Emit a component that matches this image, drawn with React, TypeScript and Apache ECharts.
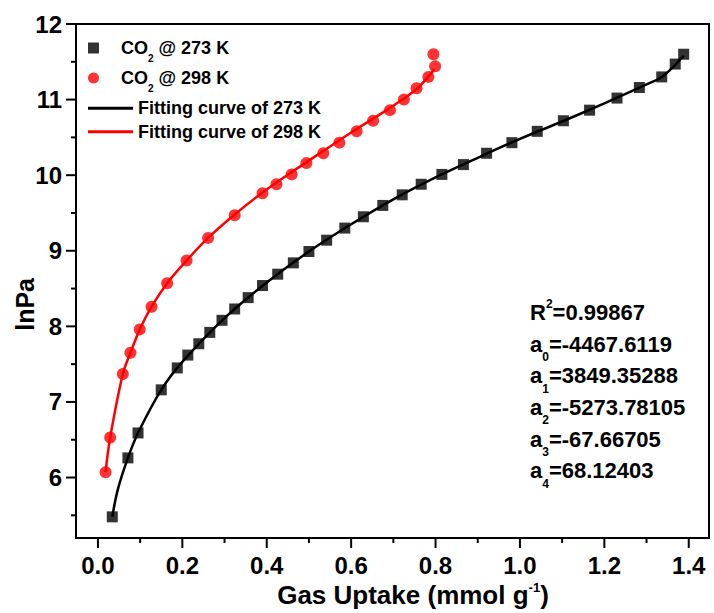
import React, { useEffect, useRef } from 'react';
import * as echarts from 'echarts';

const FONT = 'Arial, "Liberation Sans", Helvetica, sans-serif';

// CO2 @ 273 K (x: mmol/g, y: lnPa)
const x273 = [0.034, 0.071, 0.095, 0.150, 0.188, 0.213, 0.239, 0.265, 0.294, 0.324, 0.356, 0.390, 0.426, 0.463, 0.500, 0.542, 0.585, 0.629, 0.675, 0.721, 0.766, 0.815, 0.866, 0.921, 0.981, 1.041, 1.103, 1.165, 1.230, 1.283, 1.336, 1.368, 1.388];
const y273 = [5.48, 6.26, 6.59, 7.16, 7.45, 7.62, 7.77, 7.92, 8.08, 8.23, 8.38, 8.54, 8.69, 8.84, 8.99, 9.14, 9.30, 9.45, 9.60, 9.74, 9.88, 10.01, 10.14, 10.29, 10.43, 10.58, 10.72, 10.86, 11.02, 11.16, 11.30, 11.47, 11.60];

// CO2 @ 298 K
const x298 = [0.018, 0.029, 0.059, 0.077, 0.099, 0.127, 0.164, 0.210, 0.261, 0.324, 0.390, 0.423, 0.459, 0.494, 0.534, 0.572, 0.613, 0.652, 0.692, 0.725, 0.755, 0.783, 0.799, 0.795];
const y298 = [6.07, 6.53, 7.37, 7.65, 7.96, 8.26, 8.57, 8.87, 9.17, 9.47, 9.76, 9.88, 10.01, 10.16, 10.29, 10.43, 10.58, 10.72, 10.86, 11.00, 11.15, 11.30, 11.44, 11.60];

// Fitting curves
const fitX273 = [0.034, 0.047, 0.071, 0.095, 0.150, 0.200, 0.300, 0.400, 0.500, 0.600, 0.700, 0.800, 0.900, 1.000, 1.100, 1.200, 1.300, 1.336, 1.368, 1.388];
const fitY273 = [5.48, 5.84, 6.26, 6.59, 7.16, 7.53, 8.11, 8.58, 8.99, 9.35, 9.68, 9.97, 10.23, 10.48, 10.71, 10.95, 11.20, 11.30, 11.46, 11.58];
const fitX298 = [0.018, 0.029, 0.059, 0.077, 0.100, 0.127, 0.164, 0.210, 0.261, 0.324, 0.390, 0.459, 0.534, 0.613, 0.692, 0.755, 0.797];
const fitY298 = [6.07, 6.53, 7.37, 7.65, 7.97, 8.26, 8.57, 8.87, 9.17, 9.48, 9.77, 10.04, 10.32, 10.61, 10.89, 11.14, 11.40];

const xMajorTicks = [0, 0.2, 0.4, 0.6, 0.8, 1.0, 1.2, 1.4];
const xMinorTicks = [0.1, 0.3, 0.5, 0.7, 0.9, 1.1, 1.3];
const yMajorTicks = [6, 7, 8, 9, 10, 11, 12];
const yMinorTicks = [5.5, 6.5, 7.5, 8.5, 9.5, 10.5, 11.5];

const names = ['CO2 @ 273 K', 'CO2 @ 298 K', 'Fitting curve of 273 K', 'Fitting curve of 298 K'];

// fit parameters: [letter, index, kind, value]
const fitParams: [string, string, 'sup' | 'sub', string][] = [
  ['R', '2', 'sup', '=0.99867'],
  ['a', '0', 'sub', '=-4467.6119'],
  ['a', '1', 'sub', '=3849.35288'],
  ['a', '2', 'sub', '=-5273.78105'],
  ['a', '3', 'sub', '=-67.66705'],
  ['a', '4', 'sub', '=68.12403'],
];

const zip = (xs: number[], ys: number[]) => xs.map((x, i) => [x, ys[i]]);

const X_MIN = -0.052, X_MAX = 1.448, Y_MIN = 5.2, Y_MAX = 12;
const MAJOR_LEN = 10, MINOR_LEN = 5;

export default function App() {
  const ref = useRef<HTMLDivElement>(null);
  useEffect(() => {
    document.body.style.margin = '0';
    if (!ref.current) return;
    const chart = echarts.init(ref.current, null, { renderer: 'svg' });

    const paramTexts = fitParams.map(([l, i, kind, v], k) => {
      const center = 312.3 + k * 31.7;
      return {
        type: 'text',
        z: 100,
        style: {
          x: 530,
          y: center,
          verticalAlign: 'middle',
          align: 'left',
          text: `{m|${l}}{${kind}|${i}}{m|${v}}`,
          rich: {
            m: { fontSize: 22, fontWeight: 'bold', fontFamily: FONT, fill: '#000', lineHeight: kind === 'sup' ? 29.6 : 38, verticalAlign: 'middle' },
            sup: { fontSize: 12, fontWeight: 'bold', fontFamily: FONT, fill: '#000', lineHeight: 12, verticalAlign: 'top' },
            sub: { fontSize: 12, fontWeight: 'bold', fontFamily: FONT, fill: '#000', lineHeight: 12, verticalAlign: 'bottom' },
          },
        },
      };
    });

    const legendRichA = { fontSize: 18, fontWeight: 'bold', fontFamily: FONT, color: '#000' };

    // One custom series per tick set: each item is just the tick value
    const tickSeries = (values: number[], axis: 'x' | 'y', len: number, id: string) => ({
      id, name: id, type: 'custom', clip: false, silent: true, z: 50,
      data: values.map(v => (axis === 'x' ? [v, Y_MIN] : [X_MIN, v])),
      renderItem: (params: any, api: any) => {
        const p = api.coord([api.value(0), api.value(1)]);
        if (axis === 'x') {
          return { type: 'rect', z2: 100, shape: { x: p[0] - 1, y: p[1], width: 2, height: len }, style: { fill: '#000' } };
        }
        return { type: 'rect', z2: 100, shape: { x: p[0] - len, y: p[1] - 1, width: len, height: 2 }, style: { fill: '#000' } };
      },
    });

    const option: any = {
      animation: false,
      backgroundColor: '#fff',
      grid: {
        left: 76, right: 5, top: 24, bottom: 75,
        show: true, borderColor: '#000', borderWidth: 2,
        containLabel: false, outerBoundsMode: 'none',
      },
      xAxis: {
        type: 'value', min: X_MIN, max: X_MAX, position: 'bottom',
        axisLine: { show: true, onZero: false, lineStyle: { color: '#000', width: 2 } },
        axisTick: { show: false },
        axisLabel: {
          customValues: xMajorTicks, formatter: (v: number) => v.toFixed(1),
          fontSize: 24, fontWeight: 'bold', fontFamily: FONT, color: '#000', margin: 15,
        },
        splitLine: { show: false },
      },
      yAxis: {
        type: 'value', min: Y_MIN, max: Y_MAX, position: 'left',
        axisLine: { show: true, onZero: false, lineStyle: { color: '#000', width: 2 } },
        axisTick: { show: false },
        axisLabel: {
          customValues: yMajorTicks, formatter: (v: number) => String(Math.round(v)),
          fontSize: 24, fontWeight: 'bold', fontFamily: FONT, color: '#000', margin: 14,
        },
        splitLine: { show: false },
      },
      legend: [
        {
          data: [
            { name: names[0], icon: 'path://M0,0H10V10H0Z' },
            { name: names[1], icon: 'circle' },
          ],
          orient: 'vertical', left: 88, top: 39, padding: 0, itemGap: 6,
          itemWidth: 45, itemHeight: 11, selectedMode: false, symbolKeepAspect: true,
          formatter: (n: string) => '{a|CO}{s|2}{a|' + n.slice(3) + '}',
          textStyle: {
            ...legendRichA,
            rich: {
              a: { ...legendRichA, lineHeight: 30, verticalAlign: 'middle' },
              s: { fontSize: 10, fontWeight: 'bold', fontFamily: FONT, color: '#000', lineHeight: 10, verticalAlign: 'bottom' },
            },
          },
        },
        {
          data: [
            { name: names[2], icon: 'rect' },
            { name: names[3], icon: 'rect' },
          ],
          orient: 'vertical', left: 88, top: 98.3, padding: 0, itemGap: 3.4,
          itemWidth: 45, itemHeight: 3, selectedMode: false, symbolKeepAspect: false,
          textStyle: { ...legendRichA, lineHeight: 20 },
        },
      ],
      graphic: [
        {
          type: 'text', z: 100,
          style: {
            x: 413, y: 594.5, align: 'center', verticalAlign: 'middle',
            text: '{m|Gas Uptake (mmol g}{p|-1}{m|)}',
            rich: {
              m: { fontSize: 26, fontWeight: 'bold', fontFamily: FONT, fill: '#000', lineHeight: 27.6, verticalAlign: 'middle' },
              p: { fontSize: 13, fontWeight: 'bold', fontFamily: FONT, fill: '#000', lineHeight: 13, verticalAlign: 'top' },
            },
          },
        },
        {
          type: 'text', z: 100, x: 24.6, y: 304.4, rotation: Math.PI / 2,
          style: {
            x: 0, y: 0, align: 'center', verticalAlign: 'middle',
            text: 'lnPa', fontSize: 25, fontWeight: 'bold', fontFamily: FONT, fill: '#000',
          },
        },
        ...paramTexts,
      ],
      series: [
        tickSeries(xMajorTicks, 'x', MAJOR_LEN, 'xMajor'),
        tickSeries(xMinorTicks, 'x', MINOR_LEN, 'xMinor'),
        tickSeries(yMajorTicks, 'y', MAJOR_LEN, 'yMajor'),
        tickSeries(yMinorTicks, 'y', MINOR_LEN, 'yMinor'),
        {
          name: names[2], type: 'line', data: zip(fitX273, fitY273),
          showSymbol: false, symbol: 'none', smooth: 0.35,
          lineStyle: { color: '#000', width: 2.5 }, itemStyle: { color: '#000' }, z: 3,
        },
        {
          name: names[3], type: 'line', data: zip(fitX298, fitY298),
          showSymbol: false, symbol: 'none', smooth: 0.35,
          lineStyle: { color: '#ff0000', width: 2.5 }, itemStyle: { color: '#ff0000' }, z: 3,
        },
        {
          name: names[0], type: 'scatter', data: zip(x273, y273),
          symbol: 'rect', symbolSize: 11, itemStyle: { color: '#000' }, z: 4,
        },
        {
          name: names[1], type: 'scatter', data: zip(x298, y298),
          symbol: 'circle', symbolSize: 12, itemStyle: { color: '#ff0000' }, z: 4,
        },
      ],
    };
    chart.setOption(option);
    return () => chart.dispose();
  }, []);
  return <div ref={ref} style={{ width: 714, height: 613 }} />;
}
